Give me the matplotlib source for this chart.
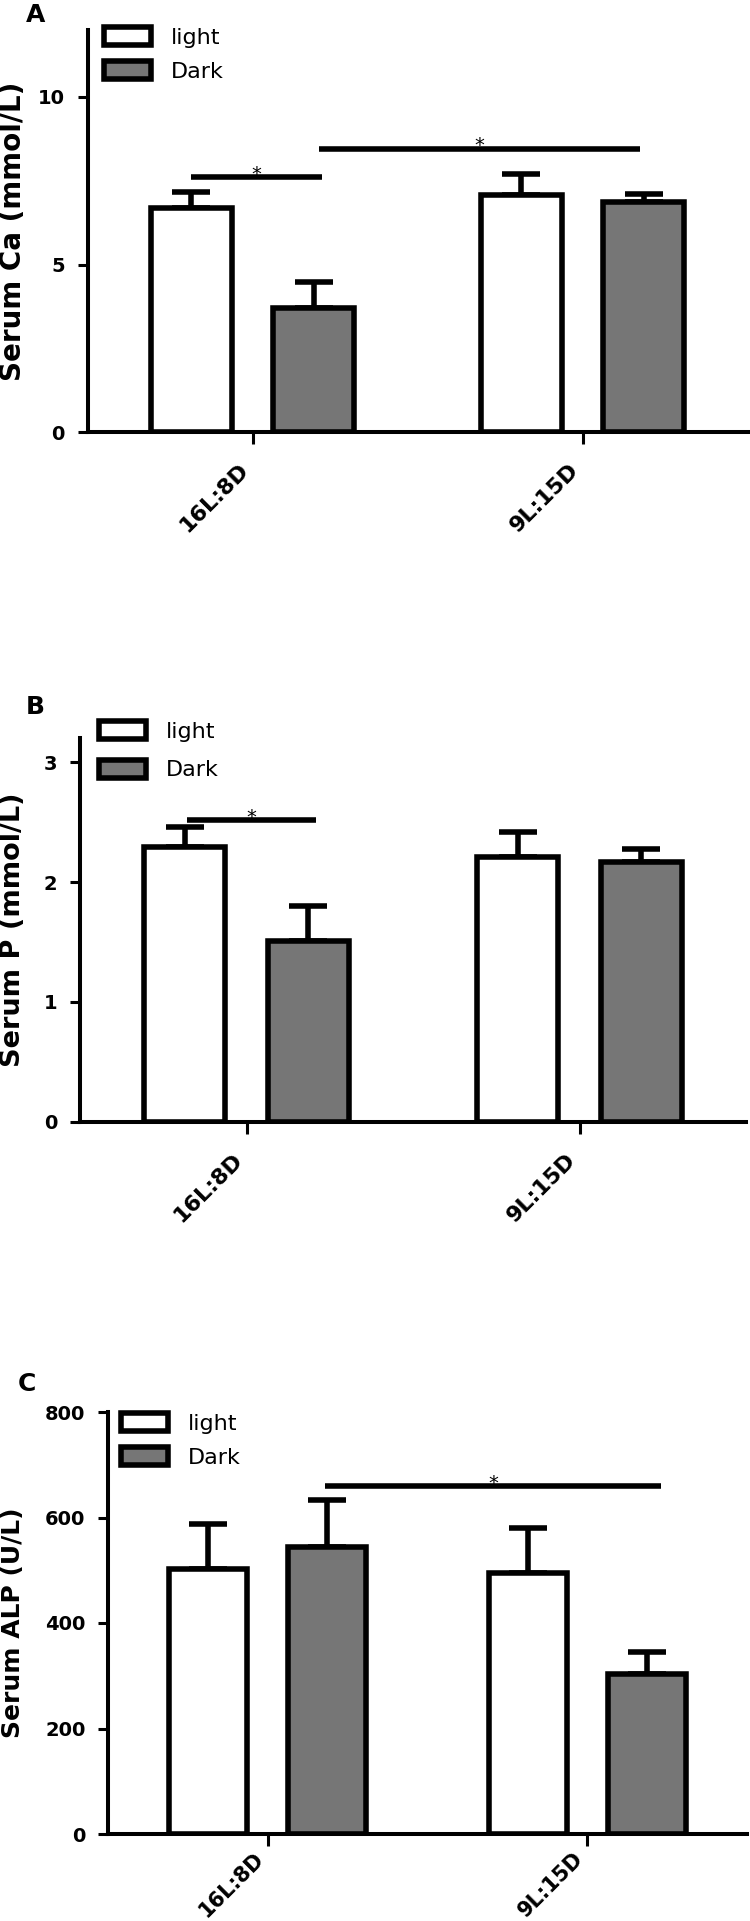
import numpy as np
import matplotlib
matplotlib.use("Agg")
from matplotlib import pyplot as plt
from matplotlib.transforms import ScaledTranslation

# Data: mean and upper SEM per photoperiod group
groups = ["16L:8D", "9L:15D"]
series_names = ["light", "Dark"]

ca_light = [6.69, 7.07]
ca_light_sem = [0.47, 0.62]
ca_dark = [3.70, 6.87]
ca_dark_sem = [0.77, 0.24]
ca_sig = [7.61, 8.46]

p_light = [2.29, 2.21]
p_light_sem = [0.17, 0.21]
p_dark = [1.51, 2.17]
p_dark_sem = [0.29, 0.11]
p_sig = [2.52]

alp_light = [503, 495]
alp_light_sem = [84, 85]
alp_dark = [545, 303]
alp_dark_sem = [89, 42]
alp_sig = [660]

# Layout / style
W, H = 750, 1921
DARK = "#767676"
LW = 4.0
OFF = 0.186
BW = 0.245

plt.rcParams["font.family"] = ["DejaVu Sans"]
plt.rcParams["font.weight"] = "bold"

fig = plt.figure(figsize=(W / 100, H / 100), dpi=100)


def px_axes(left, top, bottom, width):
    return fig.add_axes([left / W, 1 - bottom / H, width / W, (bottom - top) / H])


def draw_panel(ax, light, light_sem, dark, dark_sem, ylim, yticks, ylabel, label_size,
               left_px, width_px, sig_heights, sig_spans, legend_xy, legend_spacing,
               xlabel_pad=11.5, xlabel_size=16):
    x = np.arange(len(groups))
    ax.bar(x - OFF, light, BW, color="white", edgecolor="black", linewidth=LW,
           label=series_names[0], zorder=2)
    ax.bar(x + OFF, dark, BW, color=DARK, edgecolor="black", linewidth=LW,
           label=series_names[1], zorder=2)
    ax.errorbar(x - OFF, light, yerr=[np.zeros(len(x)), light_sem], fmt="none",
                ecolor="black", elinewidth=LW, capsize=14, capthick=LW, zorder=1)
    ax.errorbar(x + OFF, dark, yerr=[np.zeros(len(x)), dark_sem], fmt="none",
                ecolor="black", elinewidth=LW, capsize=14, capthick=LW, zorder=1)

    # significance bars
    for h, (x0, x1) in zip(sig_heights, sig_spans):
        ax.plot([x0, x1], [h, h], color="black", lw=LW, solid_capstyle="butt", zorder=3)
        ax.annotate("*", xy=((x0 + x1) / 2, h), xytext=(0, -2), textcoords="offset points",
                    ha="center", va="baseline", fontsize=14, fontweight="normal")

    ax.set_xlim(-0.5, 1.5)
    ax.set_ylim(*ylim)
    ax.set_yticks(yticks)
    ax.set_yticklabels([str(t) for t in yticks])
    ax.set_xticks(x)
    ax.set_xticklabels(groups, rotation=45, ha="right", va="top", fontsize=xlabel_size,
                       fontweight="bold")
    for lbl in ax.get_xticklabels():
        lbl.set_transform(lbl.get_transform() + ScaledTranslation(4 / 100, 0, fig.dpi_scale_trans))

    for s in ["top", "right"]:
        ax.spines[s].set_visible(False)
    for s in ["left", "bottom"]:
        ax.spines[s].set_linewidth(2.9)
    ax.tick_params(axis="y", length=7.2, width=2.2, pad=9, labelsize=14)
    ax.tick_params(axis="x", length=8.6, width=2.2, pad=xlabel_pad)

    ax.set_ylabel(ylabel, fontsize=label_size, fontweight="bold", va="center")
    ax.yaxis.set_label_coords((13 - left_px) / width_px, 0.5)

    ax.legend(loc="upper left", bbox_to_anchor=(legend_xy[0] / W, 1 - legend_xy[1] / H),
              bbox_transform=fig.transFigure, frameon=False,
              prop={"size": 16, "weight": "normal"}, handlelength=2.12, handleheight=0.86,
              handletextpad=0.9, labelspacing=legend_spacing, borderpad=0, borderaxespad=0)


# Panel A: serum Ca
axA = px_axes(87.5, 30, 432, 660)
draw_panel(axA, ca_light, ca_light_sem, ca_dark, ca_dark_sem, (0, 12), [0, 5, 10],
           "Serum Ca (mmol/L)", 20, 87.5, 660, ca_sig, [(-0.186, 0.21), (0.2, 1.175)],
           (104, 27), 0.6)

# Panel B: serum P
axB = px_axes(80, 738.3, 1121.7, 666)
draw_panel(axB, p_light, p_light_sem, p_dark, p_dark_sem, (0, 3.2), [0, 1, 2, 3],
           "Serum P (mmol/L)", 19.5, 80, 666, p_sig, [(-0.18, 0.21)],
           (99, 721), 0.82)

# Panel C: serum ALP (labels kept tight so they fit above the bottom edge)
axC = px_axes(108, 1412, 1834, 639)
draw_panel(axC, alp_light, alp_light_sem, alp_dark, alp_dark_sem, (0, 800),
           [0, 200, 400, 600, 800], "Serum ALP (U/L)", 18, 108, 639, alp_sig,
           [(0.18, 1.23)], (121, 1413), 0.62, xlabel_pad=2, xlabel_size=15)

for letter, (lx, ly) in zip(["A", "B", "C"], [(26, 3), (26, 695), (18, 1372)]):
    fig.text(lx / W, 1 - ly / H, letter, fontsize=18, fontweight="bold", ha="left", va="top")

fig.savefig("out.png", dpi=100)
plt.close(fig)
